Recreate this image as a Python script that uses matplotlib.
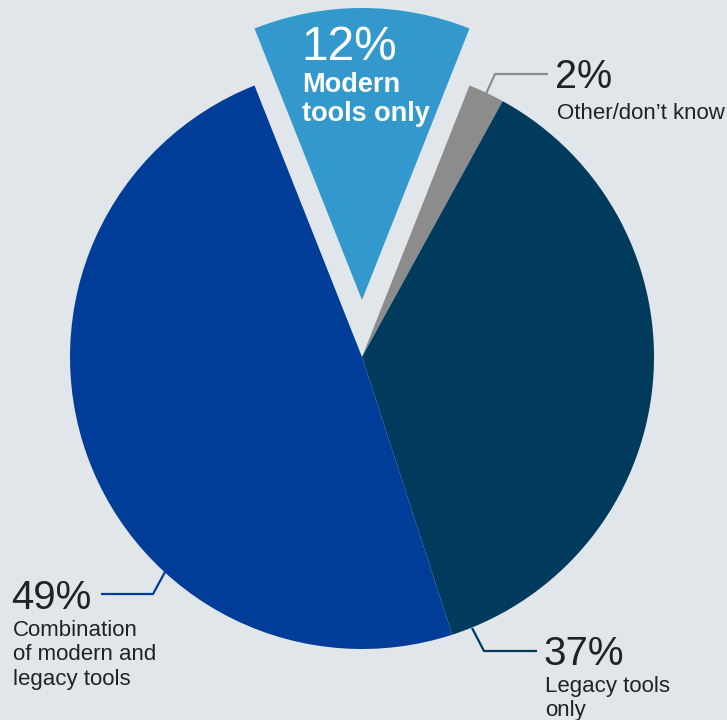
import matplotlib.pyplot as plt

# values and labels, in clockwise order starting at the exploded slice
labels = ['Modern tools only', 'Other/don\u2019t know', 'Legacy tools only', 'Combination of modern and legacy tools']
values = [12, 2, 37, 49]
colors = ['#3399cc', '#8c8c8c', '#003a5c', '#003d99']
bg = '#e1e6ea'
txt = '#222222'

H = 720
def py(y):
    # pixel row (from top) to data y
    return H - y

plt.rcParams['font.family'] = ['Liberation Sans', 'DejaVu Sans']

fig = plt.figure(figsize=(7.27, 7.2), dpi=100, facecolor=bg)
ax = fig.add_axes([0, 0, 1, 1])
ax.set_facecolor(bg)

ax.pie(values, colors=colors, startangle=111.6, counterclock=False,
       center=(362, py(357)), radius=292, explode=[57, 0, 0, 0],
       wedgeprops=dict(linewidth=0), frame=True)

ax.set_xlim(0, 727)
ax.set_ylim(0, H)
ax.set_aspect('equal')
ax.set_axis_off()

big = 29
small = 16

# 12% label inside the exploded slice
ax.text(301, py(60), f'{values[0]}%', color='white', fontsize=34.5, va='baseline', ha='left')
ax.text(302, py(92), 'Modern', color='white', fontsize=19.5, fontweight='bold', va='baseline')
ax.text(302, py(121), 'tools only', color='white', fontsize=19.5, fontweight='bold', va='baseline')

# 2%
ax.plot([485, 495, 548], [py(96), py(74), py(74)], color=colors[1], lw=1.6, solid_capstyle='butt')
ax.text(555, py(88), f'{values[1]}%', color=txt, fontsize=28.5, va='baseline')
ax.text(557, py(119), labels[1], color=txt, fontsize=small, va='baseline')

# 37%
ax.plot([472, 484, 537], [py(628), py(651), py(651)], color=colors[2], lw=1.6, solid_capstyle='butt')
ax.text(543, py(665), f'{values[2]}%', color=txt, fontsize=big, va='baseline')
ax.text(545, py(692), 'Legacy tools', color=txt, fontsize=small, va='baseline')
ax.text(545, py(716), 'only', color=txt, fontsize=small, va='baseline')

# 49%
ax.plot([165, 153, 101], [py(572), py(594), py(594)], color=colors[3], lw=1.6, solid_capstyle='butt')
ax.text(11, py(609), f'{values[3]}%', color=txt, fontsize=big, va='baseline')
ax.text(13, py(636), 'Combination', color=txt, fontsize=small, va='baseline')
ax.text(13, py(660), 'of modern and', color=txt, fontsize=small, va='baseline')
ax.text(13, py(685), 'legacy tools', color=txt, fontsize=small, va='baseline')

fig.savefig('out.png', dpi=100, facecolor=bg)
